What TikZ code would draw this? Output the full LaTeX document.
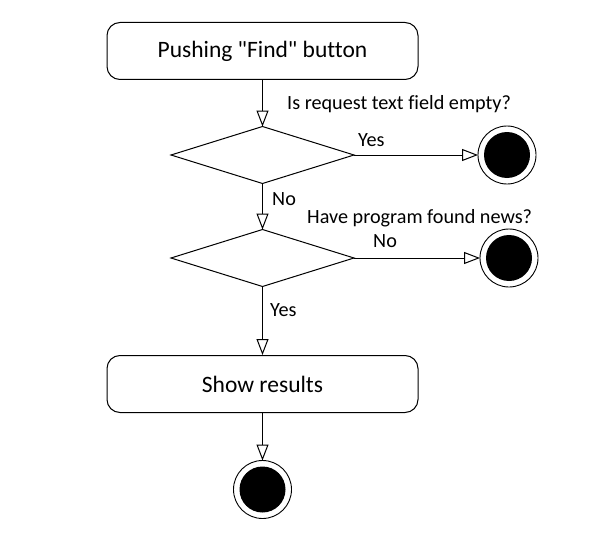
\documentclass[tikz,border=0pt]{standalone}
\usepackage{fontspec}
\setmainfont[Ligatures={TeXOff,NoCommon}]{Carlito}
\usepackage{tikz}
\usetikzlibrary{arrows.meta}
\usetikzlibrary{shapes.geometric}
\usetikzlibrary{positioning}
\tikzset{action/.style = {rectangle, draw, rounded corners=13pt, line width=1pt,
                          minimum width=311pt, minimum height=57pt,
                          font=\fontsize{23.5}{28}\selectfont},
         decision/.style = {diamond, draw, line width=1pt, inner sep=0pt, outer sep=0pt,
                            minimum width=183pt, minimum height=57pt},
         endstate/.style = {circle, draw, line width=0.9pt, minimum size=58pt,
                            outer sep=0pt,
                            path picture={\fill (path picture bounding box.center) circle (23pt);}},
         guard/.style = {anchor=base west, inner sep=0pt,
                         font=\fontsize{20.2}{24}\selectfont},
         flow/.style = {line width=1pt,
                        -{Triangle[open, length=16pt, width=12pt, line width=1pt]}}}

\begin{document}
\begin{tikzpicture}[x=1pt, y=-1pt]
      \useasboundingbox (0, 0) rectangle (592, 551);

      \node [action] (push) at (262.5, 51) {Pushing "Find" button};
      \node [decision] (empty) at (262.5, 155) {};
      \node [endstate] (stopA) at (507, 155) {};
      \node [decision] (found) at (262.5, 258) {};
      \node [endstate] (stopB) at (509, 258) {};
      \node [action] (show) at (262.5, 384) {Show results};
      \node [endstate] (stopC) at (262.5, 489.5) {};

      \node [guard] (askEmpty) at (287, 110) {Is request text field empty?};
      \node [guard] (yesEmpty) at (358, 146) {Yes};
      \node [guard] (noEmpty) at (272, 205) {No};
      \node [guard] (askFound) at (307, 223) {Have program found news?};
      \node [guard] (noFound) at (373, 247) {No};
      \node [guard] (yesFound) at (270, 316) {Yes};

      \draw [flow] (push) -- (empty);
      \draw [flow] (empty) -- (stopA);
      \draw [flow] (empty) -- (found);
      \draw [flow] (found) -- (stopB);
      \draw [flow] (found) -- (show);
      \draw [flow] (show) -- (stopC);
    \end{tikzpicture}
\end{document}
